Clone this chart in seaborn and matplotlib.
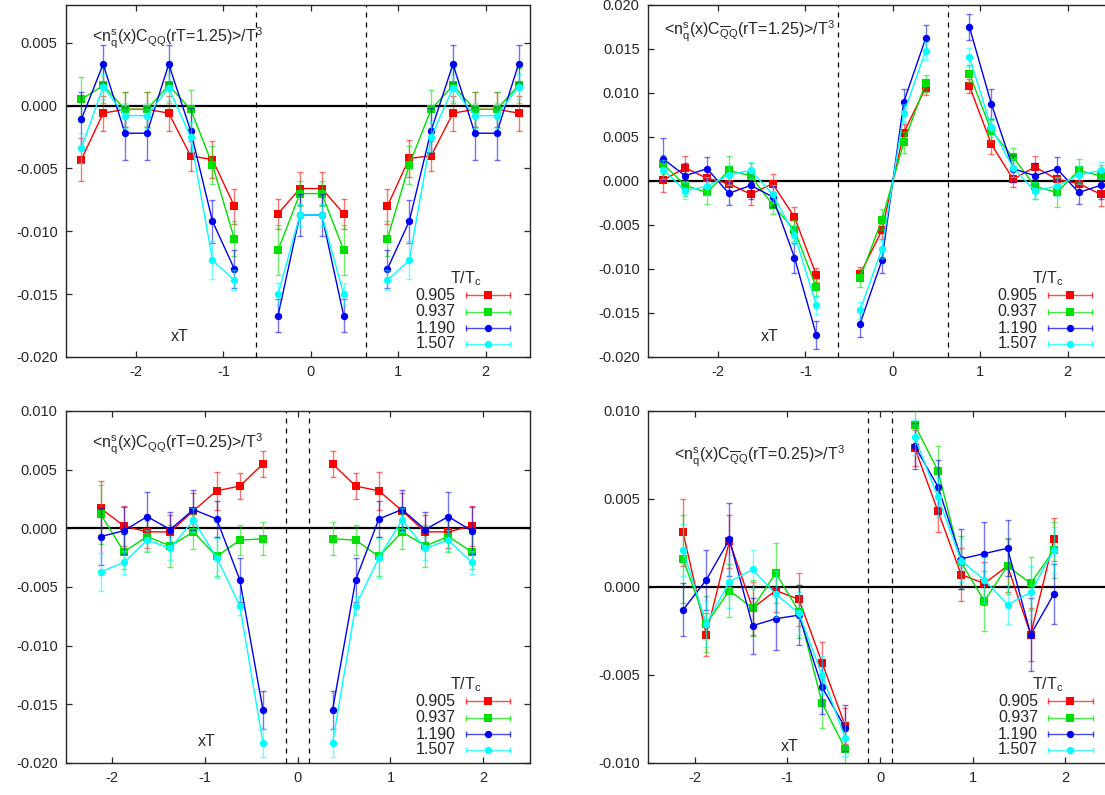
import numpy as np
import pandas as pd
import matplotlib
matplotlib.use("Agg")
import matplotlib.pyplot as plt
from matplotlib.ticker import MultipleLocator, FormatStrFormatter
import seaborn as sns

# temperatures and styles
temps = ['0.905', '0.937', '1.190', '1.507']
colors = ['#ff0000', '#00e000', '#0000f0', '#00ffff']
marks = ['s', 's', 'o', 'o']

# ---- top row: rT = 1.25 ----
top_x = [-2.625, -2.375, -2.125, -1.875, -1.625, -1.375, -1.125, -0.875,
         -0.375, -0.125, 0.125, 0.375,
         0.875, 1.125, 1.375, 1.625, 1.875, 2.125, 2.375]

tl_y_0905 = [-0.0043, -0.0006, -0.0003, -0.0003, -0.0006, -0.0040, -0.0043, -0.0080,
             -0.0086, -0.0066, -0.0066, -0.0086,
             -0.0080, -0.0042, -0.0040, -0.0006, -0.0003, -0.0003, -0.0006]
tl_e_0905 = [0.0017, 0.0014, 0.0014, 0.0014, 0.0014, 0.0012, 0.0015, 0.0014,
             0.0012, 0.0013, 0.0013, 0.0012,
             0.0014, 0.0015, 0.0012, 0.0014, 0.0014, 0.0014, 0.0014]
tl_y_0937 = [0.0005, 0.0016, -0.0003, -0.0003, 0.0016, -0.0003, -0.0047, -0.0106,
             -0.0115, -0.0070, -0.0070, -0.0115,
             -0.0106, -0.0047, -0.0003, 0.0016, -0.0003, -0.0003, 0.0016]
tl_e_0937 = [0.0018, 0.0014, 0.0014, 0.0014, 0.0014, 0.0015, 0.0015, 0.0014,
             0.0020, 0.0010, 0.0010, 0.0020,
             0.0014, 0.0015, 0.0015, 0.0014, 0.0014, 0.0014, 0.0014]
tl_y_1190 = [-0.0011, 0.0033, -0.0022, -0.0022, 0.0033, -0.0020, -0.0092, -0.0130,
             -0.0167, -0.0087, -0.0087, -0.0167,
             -0.0130, -0.0092, -0.0020, 0.0033, -0.0022, -0.0022, 0.0033]
tl_e_1190 = [0.0022, 0.0015, 0.0021, 0.0021, 0.0015, 0.0018, 0.0017, 0.0015,
             0.0013, 0.0017, 0.0017, 0.0013,
             0.0015, 0.0017, 0.0018, 0.0015, 0.0021, 0.0021, 0.0015]
tl_y_1507 = [-0.0034, 0.0015, -0.0008, -0.0008, 0.0014, -0.0025, -0.0123, -0.0139,
             -0.0150, -0.0087, -0.0087, -0.0150,
             -0.0139, -0.0123, -0.0025, 0.0014, -0.0008, -0.0008, 0.0015]
tl_e_1507 = [0.0012, 0.0010, 0.0010, 0.0010, 0.0010, 0.0012, 0.0015, 0.0008,
             0.0009, 0.0009, 0.0009, 0.0009,
             0.0008, 0.0015, 0.0012, 0.0010, 0.0010, 0.0010, 0.0010]

tr_y_0905 = [0.0001, 0.0015, 0.0003, -0.0003, -0.0015, -0.0003, -0.0041, -0.0107,
             -0.0106, -0.0056, 0.0055, 0.0106,
             0.0108, 0.0042, 0.0002, 0.0016, 0.0002, -0.0003, -0.0015]
tr_e_0905 = [0.0014, 0.0013, 0.0012, 0.0012, 0.0012, 0.0011, 0.0011, 0.0008,
             0.0008, 0.0010, 0.0010, 0.0008,
             0.0008, 0.0011, 0.0009, 0.0012, 0.0012, 0.0011, 0.0013]
tr_y_0937 = [0.0019, -0.0005, -0.0013, 0.0012, 0.0006, -0.0027, -0.0056, -0.0121,
             -0.0110, -0.0044, 0.0044, 0.0111,
             0.0122, 0.0057, 0.0027, -0.0006, -0.0013, 0.0012, 0.0006]
tr_e_0937 = [0.0011, 0.0012, 0.0013, 0.0016, 0.0014, 0.0011, 0.0012, 0.0010,
             0.0010, 0.0012, 0.0012, 0.0010,
             0.0010, 0.0012, 0.0011, 0.0014, 0.0016, 0.0013, 0.0012]
tr_y_1190 = [0.0025, 0.0006, 0.0014, -0.0014, -0.0005, -0.0018, -0.0087, -0.0175,
             -0.0162, -0.0090, 0.0090, 0.0162,
             0.0175, 0.0088, 0.0014, 0.0006, 0.0014, -0.0013, -0.0005]
tr_e_1190 = [0.0024, 0.0015, 0.0013, 0.0013, 0.0016, 0.0012, 0.0017, 0.0016,
             0.0015, 0.0015, 0.0015, 0.0015,
             0.0015, 0.0017, 0.0015, 0.0015, 0.0013, 0.0013, 0.0015]
tr_y_1507 = [0.0013, -0.0011, -0.0006, 0.0007, 0.0012, -0.0015, -0.0061, -0.0141,
             -0.0147, -0.0077, 0.0077, 0.0148,
             0.0141, 0.0061, 0.0015, -0.0011, -0.0006, 0.0007, 0.0012]
tr_e_1507 = [0.0011, 0.0010, 0.0010, 0.0011, 0.0010, 0.0010, 0.0011, 0.0010,
             0.0010, 0.0010, 0.0010, 0.0010,
             0.0010, 0.0011, 0.0010, 0.0010, 0.0011, 0.0010, 0.0010]

# ---- bottom row: rT = 0.25 ----
bot_x = [-2.125, -1.875, -1.625, -1.375, -1.125, -0.875, -0.625, -0.375,
         0.375, 0.625, 0.875, 1.125, 1.375, 1.625, 1.875]

bl_y_0905 = [0.0017, 0.0002, -0.0003, -0.0003, 0.0015, 0.0032, 0.0036, 0.0055,
             0.0055, 0.0036, 0.0032, 0.0015, -0.0003, -0.0003, 0.0002]
bl_e_0905 = [0.0023, 0.0017, 0.0014, 0.0014, 0.0015, 0.0016, 0.0011, 0.0011,
             0.0011, 0.0011, 0.0016, 0.0015, 0.0014, 0.0014, 0.0017]
bl_y_0937 = [0.0012, -0.0020, -0.0007, -0.0015, -0.0003, -0.0024, -0.0010, -0.0009,
             -0.0009, -0.0010, -0.0024, -0.0003, -0.0015, -0.0007, -0.0020]
bl_e_0937 = [0.0025, 0.0015, 0.0013, 0.0018, 0.0015, 0.0017, 0.0013, 0.0014,
             0.0014, 0.0013, 0.0017, 0.0015, 0.0018, 0.0013, 0.0015]
bl_y_1190 = [-0.0007, -0.0002, 0.0010, -0.0001, 0.0016, 0.0008, -0.0044, -0.0155,
             -0.0155, -0.0044, 0.0008, 0.0016, -0.0001, 0.0010, -0.0002]
bl_e_1190 = [0.0024, 0.0020, 0.0021, 0.0015, 0.0017, 0.0015, 0.0019, 0.0016,
             0.0016, 0.0019, 0.0015, 0.0017, 0.0015, 0.0021, 0.0020]
bl_y_1507 = [-0.0037, -0.0029, -0.0010, -0.0017, 0.0007, -0.0025, -0.0066, -0.0183,
             -0.0183, -0.0066, -0.0025, 0.0007, -0.0017, -0.0010, -0.0029]
bl_e_1507 = [0.0016, 0.0010, 0.0009, 0.0010, 0.0010, 0.0017, 0.0008, 0.0012,
             0.0012, 0.0008, 0.0017, 0.0010, 0.0010, 0.0009, 0.0010]

br_y_0905 = [0.0031, -0.0027, 0.0026, -0.0012, -0.0002, -0.0007, -0.0043, -0.0079,
             0.0079, 0.0043, 0.0007, 0.0002, 0.0012, -0.0027, 0.0027]
br_e_0905 = [0.0019, 0.0012, 0.0015, 0.0015, 0.0012, 0.0015, 0.0012, 0.0010,
             0.0010, 0.0012, 0.0015, 0.0012, 0.0015, 0.0015, 0.0012]
br_y_0937 = [0.0016, -0.0021, -0.0002, -0.0012, 0.0008, -0.0014, -0.0066, -0.0092,
             0.0092, 0.0066, 0.0014, -0.0008, 0.0012, 0.0002, 0.0021]
br_e_0937 = [0.0025, 0.0016, 0.0015, 0.0016, 0.0017, 0.0015, 0.0014, 0.0010,
             0.0010, 0.0014, 0.0015, 0.0017, 0.0016, 0.0015, 0.0016]
br_y_1190 = [-0.0013, 0.0004, 0.0027, -0.0022, -0.0018, -0.0016, -0.0057, -0.0080,
             0.0080, 0.0057, 0.0016, 0.0019, 0.0022, -0.0027, -0.0004]
br_e_1190 = [0.0015, 0.0017, 0.0021, 0.0016, 0.0018, 0.0017, 0.0015, 0.0013,
             0.0013, 0.0015, 0.0017, 0.0018, 0.0016, 0.0021, 0.0017]
br_y_1507 = [0.0021, -0.0021, 0.0003, 0.0010, -0.0004, -0.0015, -0.0050, -0.0086,
             0.0085, 0.0051, 0.0015, 0.0004, -0.0010, -0.0003, 0.0021]
br_e_1507 = [0.0015, 0.0013, 0.0015, 0.0011, 0.0013, 0.0012, 0.0011, 0.0010,
             0.0010, 0.0011, 0.0012, 0.0013, 0.0011, 0.0015, 0.0013]

sns.set_theme(style='ticks')
plt.rcParams['font.family'] = ['Liberation Sans', 'DejaVu Sans']
plt.rcParams['mathtext.fontset'] = 'custom'
plt.rcParams['mathtext.rm'] = 'Liberation Sans'
plt.rcParams['mathtext.it'] = 'Liberation Sans'
plt.rcParams['axes.unicode_minus'] = False

FS = 10.5      # tick labels
FS_TXT = 11.5  # labels inside the frames


def make_df(x, ys, es, cut):
    rows = []
    for t, y, e in zip(temps, ys, es):
        for xi, yi, ei in zip(x, y, e):
            seg = 0 if xi < -cut else (1 if xi < cut else 2)
            rows.append((t, xi, yi, ei, seg))
    return pd.DataFrame(rows, columns=['T', 'x', 'y', 'err', 'seg'])


def msize(m):
    return 6.3 if m == 's' else 5.3


def draw_panel(ax, df, xlim, ylim, dashes_at, title, title_pos, xt_pos):
    ax.axhline(0, color='black', lw=1.6, zorder=1)
    for xv in dashes_at:
        ax.axvline(xv, color='black', lw=0.9, ls=(0, (4, 4)), zorder=1)
    for i, (t, c, m) in enumerate(zip(temps, colors, marks)):
        sub = df[df['T'] == t]
        ax.errorbar(sub['x'], sub['y'], yerr=sub['err'], fmt='none', ecolor=c,
                    alpha=0.55, elinewidth=1.0, capsize=2.2, capthick=1.0, zorder=2 + i)
        sns.lineplot(data=sub, x='x', y='y', units='seg', estimator=None, sort=False,
                     color=c, marker=m, markersize=msize(m),
                     markeredgewidth=0, linewidth=1.0, legend=False, ax=ax, zorder=2.5 + i)
    ax.set_xlim(*xlim)
    ax.set_ylim(*ylim)
    ax.xaxis.set_major_locator(MultipleLocator(1))
    ax.yaxis.set_major_locator(MultipleLocator(0.005))
    ax.yaxis.set_major_formatter(FormatStrFormatter('%.3f'))
    ax.xaxis.set_major_formatter(FormatStrFormatter('%g'))
    ax.tick_params(direction='in', top=True, right=True, length=4, width=0.9,
                   labelsize=FS, pad=6)
    for s in ax.spines.values():
        s.set_linewidth(1.0)
    ax.set_xlabel('')
    ax.set_ylabel('')
    ax.text(title_pos[0], title_pos[1], title, transform=ax.transAxes,
            fontsize=FS_TXT, va='center', ha='left')
    ax.text(xt_pos[0], xt_pos[1], 'xT', transform=ax.transAxes,
            fontsize=FS_TXT, va='center', ha='center')

    # key in the lower right corner, gnuplot style
    ax.text(0.862, 0.222, r'T/T$_{\rm c}$', transform=ax.transAxes,
            fontsize=FS_TXT, va='center', ha='center')
    key_y = [0.175, 0.128, 0.082, 0.038]
    for t, c, m, ky in zip(temps, colors, marks, key_y):
        ax.text(0.841, ky, t, transform=ax.transAxes, fontsize=FS_TXT,
                va='center', ha='right')
        ax.plot([0.862, 0.959], [ky, ky], color=c, lw=1.0, alpha=0.7,
                marker='|', markersize=5, transform=ax.transAxes, clip_on=False)
        ax.plot([0.910], [ky], color=c, marker=m, markersize=msize(m),
                markeredgewidth=0, transform=ax.transAxes, clip_on=False)


fig = plt.figure(figsize=(11.05, 7.95), dpi=100)
W, H = 1105.0, 795.0

ax_tl = fig.add_axes([66 / W, (H - 357) / H, 463.5 / W, 352 / H])
ax_tr = fig.add_axes([648 / W, (H - 357) / H, 463.5 / W, 352 / H])
ax_bl = fig.add_axes([66 / W, (H - 763) / H, 463.5 / W, 352 / H])
ax_br = fig.add_axes([648.3 / W, (H - 763) / H, 463.5 / W, 352 / H])

df_tl = make_df(top_x, [tl_y_0905, tl_y_0937, tl_y_1190, tl_y_1507],
                [tl_e_0905, tl_e_0937, tl_e_1190, tl_e_1507], 0.625)
df_tr = make_df(top_x, [tr_y_0905, tr_y_0937, tr_y_1190, tr_y_1507],
                [tr_e_0905, tr_e_0937, tr_e_1190, tr_e_1507], 0.625)
df_bl = make_df(bot_x, [bl_y_0905, bl_y_0937, bl_y_1190, bl_y_1507],
                [bl_e_0905, bl_e_0937, bl_e_1190, bl_e_1507], 0.0)
df_br = make_df(bot_x, [br_y_0905, br_y_0937, br_y_1190, br_y_1507],
                [br_e_0905, br_e_0937, br_e_1190, br_e_1507], 0.0)

draw_panel(ax_tl, df_tl, (-2.8, 2.5), (-0.020, 0.008), [-0.625, 0.625],
           r'<n$_{\rm q}^{\rm s}$(x)C$_{\rm QQ}$(rT=1.25)>/T$^{3}$', (0.056, 0.905), (0.246, 0.057))
draw_panel(ax_tr, df_tr, (-2.8, 2.5), (-0.020, 0.020), [-0.625, 0.625],
           r'<n$_{\rm q}^{\rm s}$(x)C$_{\overline{\rm Q}{\rm Q}}$(rT=1.25)>/T$^{3}$', (0.035, 0.925), (0.263, 0.057))
draw_panel(ax_bl, df_bl, (-2.5, 2.5), (-0.020, 0.010), [-0.125, 0.125],
           r'<n$_{\rm q}^{\rm s}$(x)C$_{\rm QQ}$(rT=0.25)>/T$^{3}$', (0.057, 0.905), (0.304, 0.06))
draw_panel(ax_br, df_br, (-2.5, 2.5), (-0.010, 0.010), [-0.125, 0.125],
           r'<n$_{\rm q}^{\rm s}$(x)C$_{\overline{\rm Q}{\rm Q}}$(rT=0.25)>/T$^{3}$', (0.056, 0.872), (0.306, 0.046))

fig.savefig('out.png', dpi=100)
